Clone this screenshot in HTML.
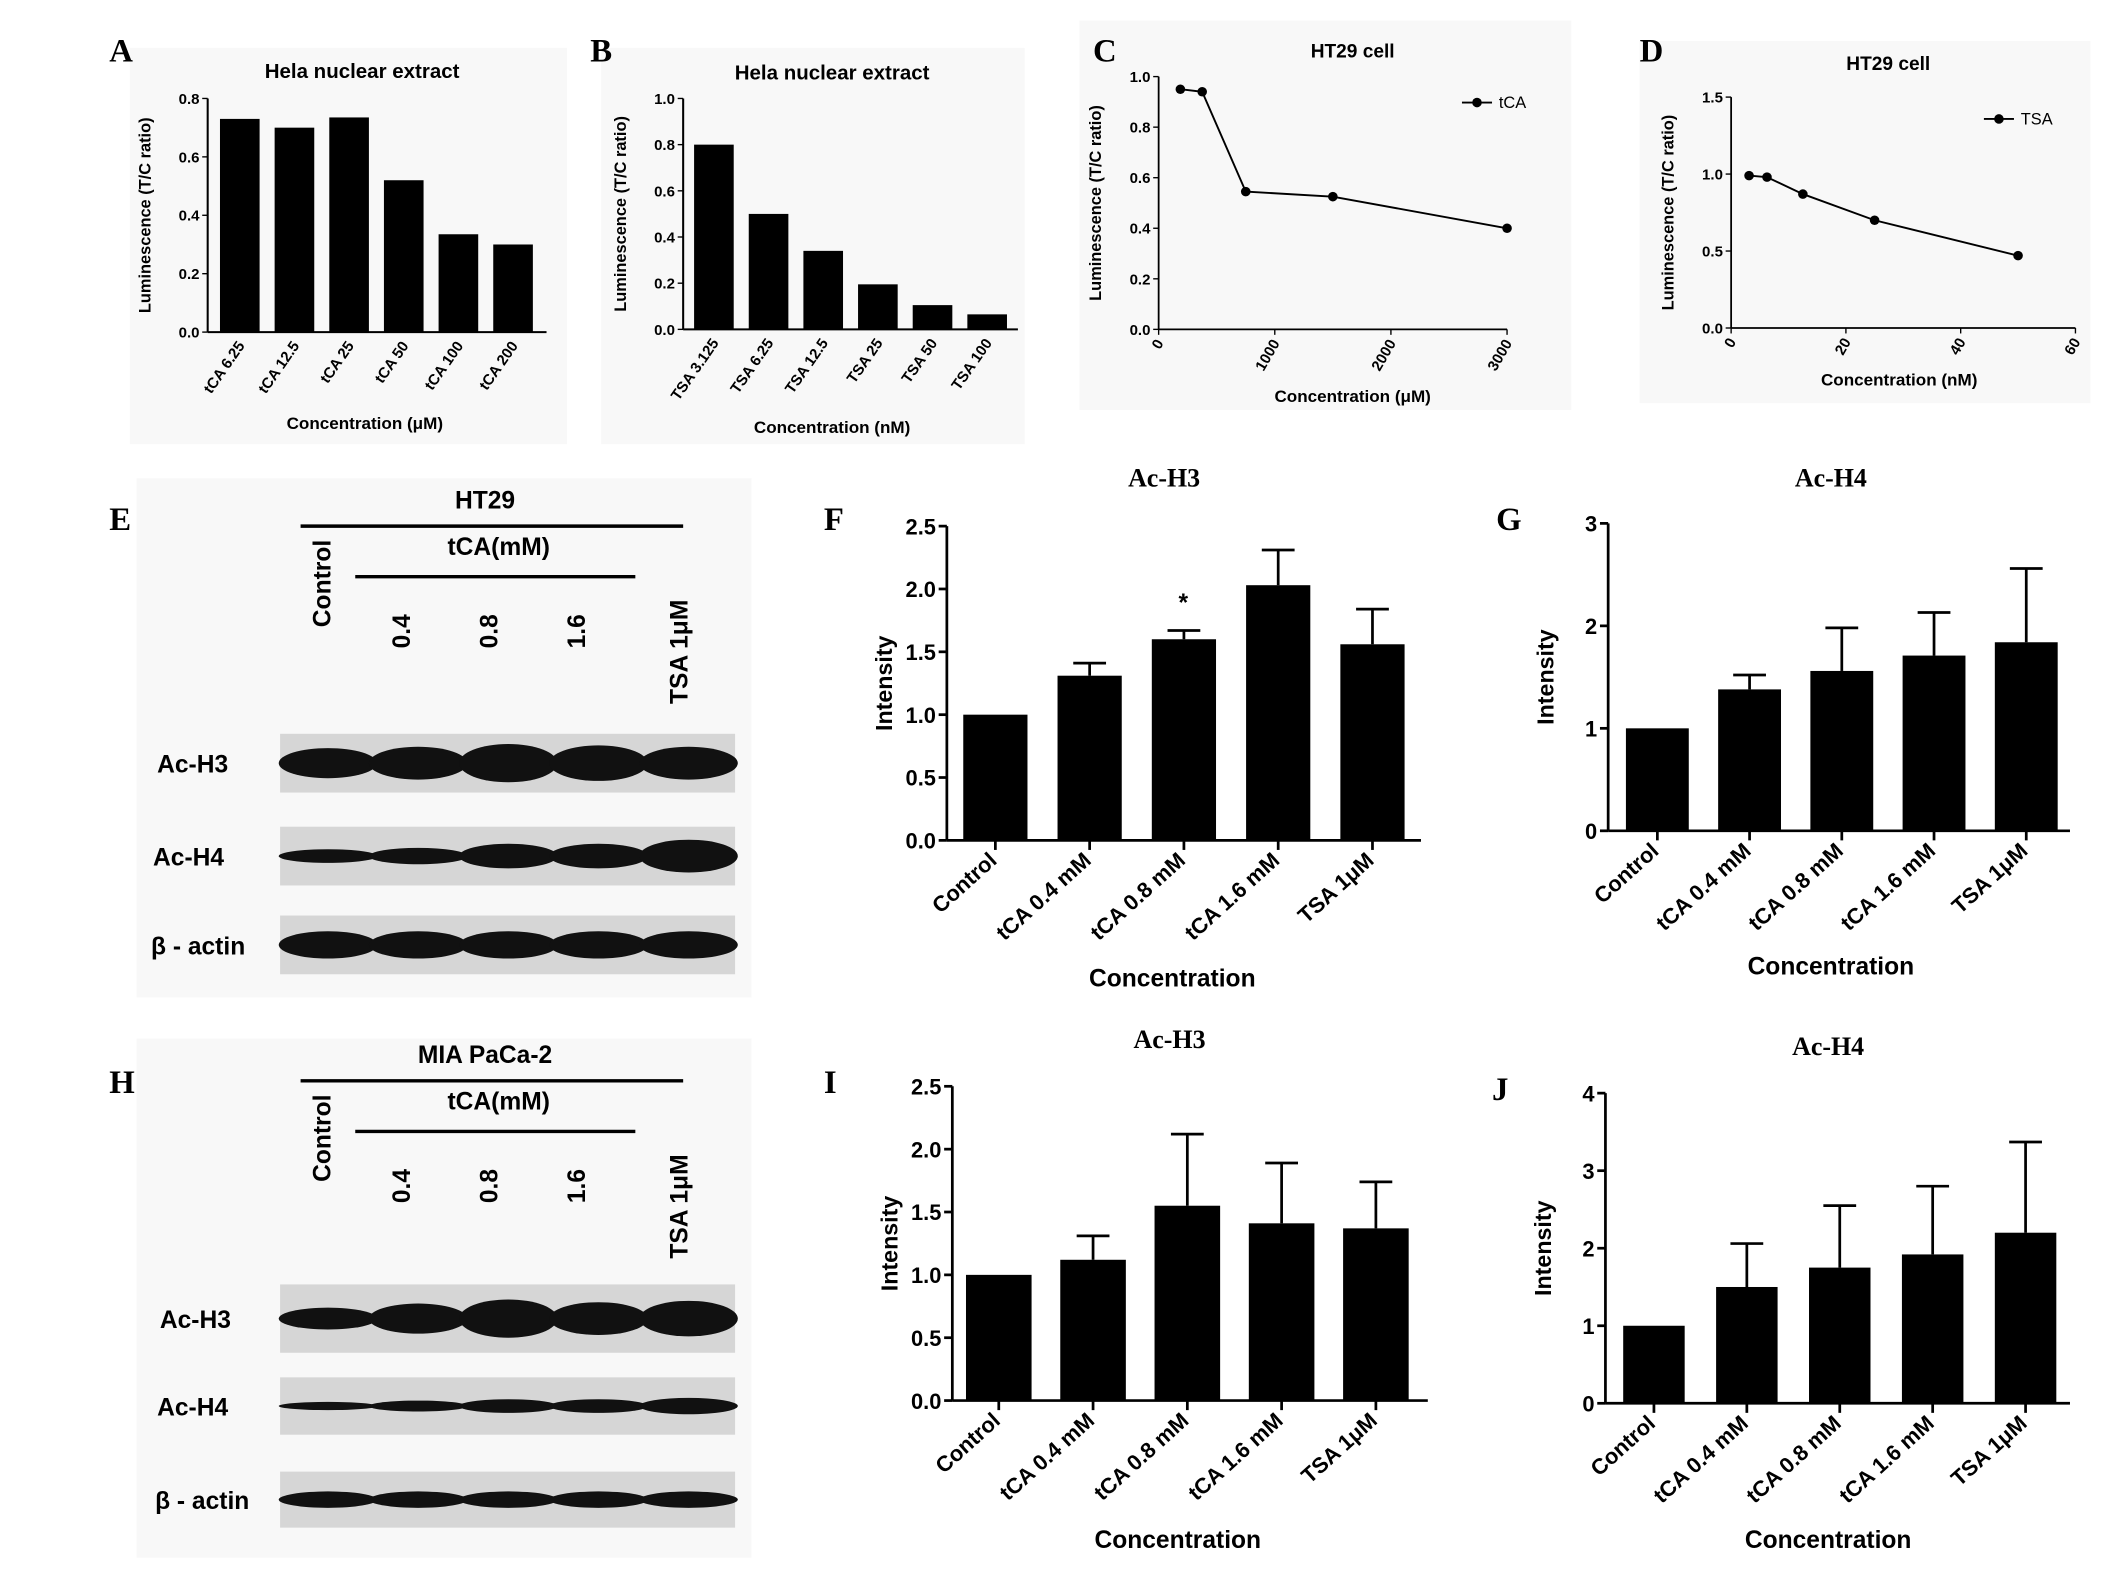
<!DOCTYPE html>
<html><head><meta charset="utf-8"><style>
html,body{margin:0;padding:0;background:#fff;}
svg{display:block;font-family:"Liberation Sans",Arial,sans-serif;}
.lt{font-family:"Liberation Serif",serif;font-weight:bold;font-size:24px;}
.tt{font-family:"Liberation Serif",serif;font-weight:bold;font-size:19px;}
</style></head><body>
<svg id="fig" width="2126" height="1581" viewBox="0 0 1556 1157" xmlns="http://www.w3.org/2000/svg">
<g fill="#f8f8f8">
<rect x="95" y="35" width="320" height="290"/><rect x="440" y="35" width="310" height="290"/>
<rect x="790" y="15" width="360" height="285"/><rect x="1200" y="30" width="330" height="265"/>
<rect x="100" y="350" width="450" height="380"/><rect x="100" y="760" width="450" height="380"/>
</g>
<g id="content"></g>
</svg>
<script>
// Panel A data
const aCats=["tCA 6.25","tCA 12.5","tCA 25","tCA 50","tCA 100","tCA 200"];
const aVals=[0.73,0.70,0.735,0.52,0.335,0.30];
const aTicks=[0,0.2,0.4,0.6,0.8];
// Panel B data
const bCats=["TSA 3.125","TSA 6.25","TSA 12.5","TSA 25","TSA 50","TSA 100"];
const bVals=[0.80,0.50,0.34,0.195,0.105,0.065];
const bTicks=[0,0.2,0.4,0.6,0.8,1.0];
// Panel C data
const cX=[187,375,750,1500,3000];
const cY=[0.95,0.94,0.545,0.525,0.40];
const cXTicks=[0,1000,2000,3000];
const cYTicks=[0,0.2,0.4,0.6,0.8,1.0];
// Panel D data
const dX=[3.125,6.25,12.5,25,50];
const dY=[0.99,0.98,0.87,0.70,0.47];
const dXTicks=[0,20,40,60];
const dYTicks=[0,0.5,1.0,1.5];
// Panels F,G,I,J
const hCats=["Control","tCA 0.4 mM","tCA 0.8 mM","tCA 1.6 mM","TSA 1μM"];
const fVals=[1.0,1.31,1.60,2.03,1.56];
const fErr=[0,0.10,0.07,0.28,0.28];
const fTicks=[0,0.5,1.0,1.5,2.0,2.5];
const gVals=[1.0,1.38,1.56,1.71,1.84];
const gErr=[0,0.14,0.42,0.42,0.72];
const gTicks=[0,1,2,3];
const iVals=[1.0,1.12,1.55,1.41,1.37];
const iErr=[0,0.19,0.57,0.48,0.37];
const iTicks=[0,0.5,1.0,1.5,2.0,2.5];
const jVals=[1.0,1.50,1.75,1.92,2.20];
const jErr=[0,0.56,0.80,0.88,1.17];
const jTicks=[0,1,2,3,4];

const NS="http://www.w3.org/2000/svg";
const root=document.getElementById('content');
function el(tag,attrs,parent,text){const e=document.createElementNS(NS,tag);for(const k in attrs)e.setAttribute(k,attrs[k]);if(text!==undefined)e.textContent=text;(parent||root).appendChild(e);return e;}
function grp(name){const g=document.createElementNS(NS,'g');


root.appendChild(g);return g;}

function letter(t,x,y){const e=el('text',{x:x,y:y,class:'lt'},root,t);

}

function smallBar(name,cats,vals,ticks,x0,x1,yTop,yBot,vmax,bx,bw,title,tx,ty,xlabel,xlx,xly,fmt){
  const g=grp(name);
  const y=v=>yBot-(v/vmax)*(yBot-yTop);
  el('line',{x1:x0,y1:yTop,x2:x0,y2:yBot,stroke:'#000','stroke-width':1.5},g);
  el('line',{x1:x0,y1:yBot,x2:x1,y2:yBot,stroke:'#000','stroke-width':1.5},g);
  ticks.forEach(t=>{el('line',{x1:x0-4,y1:y(t),x2:x0,y2:y(t),stroke:'#000'},g);
    el('text',{x:x0-6,y:y(t)+4,'text-anchor':'end','font-size':11,'font-weight':'bold'},g,fmt(t));});
  vals.forEach((v,i)=>{const b=el('rect',{x:bx+i*(bw+11),y:y(v),width:bw,height:yBot-y(v),fill:'#000'},g);
    
    
    const cx=bx+i*(bw+11)+bw/2;
    el('text',{x:cx+4,y:yBot+10,'text-anchor':'end','font-size':11,'font-weight':'bold',transform:`rotate(-55 ${cx+4} ${yBot+10})`},g,cats[i]);});
  el('text',{x:tx,y:ty,'text-anchor':'middle','font-size':15,'font-weight':'bold'},g,title);
  el('text',{x:xlx,y:xly,'text-anchor':'middle','font-size':12.5,'font-weight':'bold'},g,xlabel);
  const yl=(yTop+yBot)/2;
  el('text',{x:x0-42,y:yl,'text-anchor':'middle','font-size':12,'font-weight':'bold',transform:`rotate(-90 ${x0-42} ${yl})`},g,'Luminescence (T/C ratio)');
}
letter('A',80,45);letter('B',432,45);letter('C',800,45);letter('D',1200,45);
smallBar('chart-a',aCats,aVals,aTicks,152,400,72,243,0.8,161,29,'Hela nuclear extract',265,57,'Concentration (μM)',267,314,t=>t===0?'0.0':String(t));
smallBar('chart-b',bCats,bVals,bTicks,500,745,72,241,1.0,508,29,'Hela nuclear extract',609,58,'Concentration (nM)',609,317,t=>t.toFixed(1));

function lineChart(name,xs,ys,xt,yt,x0,x1,yTop,yBot,xmax,ymax,title,tx,ty,xlabel,xlx,xly,leg,lx,ly,yfmt){
  const g=grp(name);
  const X=v=>x0+v/xmax*(x1-x0), Y=v=>yBot-v/ymax*(yBot-yTop);
  el('line',{x1:x0,y1:Y(yt[yt.length-1]),x2:x0,y2:yBot,stroke:'#000','stroke-width':1.3},g);
  el('line',{x1:x0,y1:yBot,x2:X(xt[xt.length-1]),y2:yBot,stroke:'#000','stroke-width':1.3},g);
  yt.forEach(t=>{el('line',{x1:x0-4,y1:Y(t),x2:x0,y2:Y(t),stroke:'#000'},g);
    el('text',{x:x0-6,y:Y(t)+4,'text-anchor':'end','font-size':11,'font-weight':'bold'},g,yfmt(t));});
  xt.forEach(t=>{el('line',{x1:X(t),y1:yBot,x2:X(t),y2:yBot+4,stroke:'#000'},g);
    el('text',{x:X(t)+4,y:yBot+10,'text-anchor':'end','font-size':11,'font-weight':'bold',transform:`rotate(-60 ${X(t)+4} ${yBot+10})`},g,String(t));});
  el('polyline',{points:xs.map((v,i)=>X(v)+','+Y(ys[i])).join(' '),fill:'none',stroke:'#000','stroke-width':1.4},g);
  xs.forEach((v,i)=>{const c=el('circle',{cx:X(v),cy:Y(ys[i]),r:3.5,fill:'#000'},g);
    
    });
  el('line',{x1:lx,y1:ly,x2:lx+22,y2:ly,stroke:'#000','stroke-width':1.4},g);
  el('circle',{cx:lx+11,cy:ly,r:3.5,fill:'#000'},g);
  el('text',{x:lx+27,y:ly+4,'font-size':12},g,leg);
  el('text',{x:tx,y:ty,'text-anchor':'middle','font-size':14,'font-weight':'bold'},g,title);
  el('text',{x:xlx,y:xly,'text-anchor':'middle','font-size':12.5,'font-weight':'bold'},g,xlabel);
  const yl=(yTop+yBot)/2;
  el('text',{x:x0-42,y:yl,'text-anchor':'middle','font-size':12,'font-weight':'bold',transform:`rotate(-90 ${x0-42} ${yl})`},g,'Luminescence (T/C ratio)');
}
lineChart('chart-c',cX,cY,cXTicks,cYTicks,848,1103,56,241,3000,1.0,'HT29 cell',990,42,'Concentration (μM)',990,294,'tCA',1070,75,t=>t.toFixed(1));
lineChart('chart-d',dX,dY,dXTicks,dYTicks,1267,1519,71,240,60,1.5,'HT29 cell',1382,51,'Concentration (nM)',1390,282,'TSA',1452,87,t=>t.toFixed(1));

function bigBar(name,vals,err,ticks,x0,x1,yTop,yBot,bx,step,bw,title,tx,ty,xlx,xly,fmt){
  const g=grp(name);
  const vmax=ticks[ticks.length-1];
  const Y=v=>yBot-v/vmax*(yBot-yTop);
  el('line',{x1:x0,y1:yTop,x2:x0,y2:yBot,stroke:'#000','stroke-width':2},g);
  el('line',{x1:x0,y1:yBot,x2:x1,y2:yBot,stroke:'#000','stroke-width':2},g);
  ticks.forEach(t=>{el('line',{x1:x0-6,y1:Y(t),x2:x0,y2:Y(t),stroke:'#000','stroke-width':2},g);
    el('text',{x:x0-8,y:Y(t)+6,'text-anchor':'end','font-size':16,'font-weight':'bold'},g,fmt(t));});
  vals.forEach((v,i)=>{const x=bx+i*step;const cx=x+bw/2;
    if(err[i]>0){el('line',{x1:cx,y1:Y(v),x2:cx,y2:Y(v+err[i]),stroke:'#000','stroke-width':2},g);
      el('line',{x1:cx-12,y1:Y(v+err[i]),x2:cx+12,y2:Y(v+err[i]),stroke:'#000','stroke-width':2},g);}
    const b=el('rect',{x:x,y:Y(v),width:bw,height:yBot-Y(v),fill:'#000'},g);
    
    
    el('line',{x1:cx,y1:yBot,x2:cx,y2:yBot+7,stroke:'#000','stroke-width':2},g);
    el('text',{x:cx+2,y:yBot+16,'text-anchor':'end','font-size':16,'font-weight':'bold',transform:`rotate(-42 ${cx+2} ${yBot+16})`},g,hCats[i]);});
  el('text',{x:tx,y:ty,'text-anchor':'middle',class:'tt'},g,title);
  el('text',{x:xlx,y:xly,'text-anchor':'middle','font-size':18,'font-weight':'bold'},g,'Concentration');
  const yl=(yTop+yBot)/2;
  el('text',{x:x0-40,y:yl,'text-anchor':'middle','font-size':17,'font-weight':'bold',transform:`rotate(-90 ${x0-40} ${yl})`},g,'Intensity');
  return {g,Y};
}
letter('F',603,388);letter('G',1095,388);letter('I',603,800);letter('J',1092,805);
letter('E',80,388);letter('H',80,800);
const f=bigBar('chart-f',fVals,fErr,fTicks,693,1040,385,615,705,69,47,'Ac-H3',852,356,858,722,t=>t.toFixed(1));
el('text',{x:866,y:447,'text-anchor':'middle','font-size':18,'font-weight':'bold'},f.g,'*');
bigBar('chart-g',gVals,gErr,gTicks,1177,1515,383,608,1190,67.5,46,'Ac-H4',1340,356,1340,713,t=>String(t));
bigBar('chart-i',iVals,iErr,iTicks,697,1045,795,1025,707,69,48,'Ac-H3',856,767,862,1133,t=>t.toFixed(1));
bigBar('chart-j',jVals,jErr,jTicks,1175,1515,800,1027,1188,68,45,'Ac-H4',1338,772,1338,1133,t=>String(t));

function blot(name,cell,yTop,rows){
  const g=grp(name);
  el('text',{x:355,y:yTop+20,'text-anchor':'middle','font-size':18,'font-weight':'bold'},g,cell);
  el('line',{x1:220,y1:yTop+33,x2:500,y2:yTop+33,stroke:'#000','stroke-width':2.5},g);
  el('text',{x:365,y:yTop+54,'text-anchor':'middle','font-size':18,'font-weight':'bold'},g,'tCA(mM)');
  el('line',{x1:260,y1:yTop+70,x2:465,y2:yTop+70,stroke:'#000','stroke-width':2.5},g);
  [['Control',242,yTop+75],['0.4',300,yTop+110],['0.8',364,yTop+110],['1.6',428,yTop+110],['TSA 1μM',503,yTop+125]].forEach(l=>{
    el('text',{x:l[1],y:l[2],'text-anchor':'middle','font-size':18,'font-weight':'bold',transform:`rotate(-90 ${l[1]} ${l[2]})`},g,l[0]);});
  rows.forEach(r=>{
    el('rect',{x:205,y:r.y,width:333,height:r.h,fill:'#d6d6d6'},g);
    el('text',{x:r.lx,y:r.y+r.h/2+7,'text-anchor':'middle','font-size':18,'font-weight':'bold'},g,r.label);
    r.bands.forEach((bh,i)=>{const cx=240+i*66;
      el('ellipse',{cx:cx,cy:r.y+r.h/2,rx:36,ry:bh,fill:'#111'},g);});
  });
}
blot('western-blot-ht29','HT29',352,[
 {label:'Ac-H3',lx:141,y:537,h:43,bands:[11,12,14,13,12]},
 {label:'Ac-H4',lx:138,y:605,h:43,bands:[5,6,9,9,12]},
 {label:'β - actin',lx:145,y:670,h:43,bands:[10,10,10,10,10]}]);
blot('western-blot-mia-paca2','MIA PaCa-2',758,[
 {label:'Ac-H3',lx:143,y:940,h:50,bands:[8,11,14,12,13]},
 {label:'Ac-H4',lx:141,y:1008,h:42,bands:[3,4,5,5,6]},
 {label:'β - actin',lx:148,y:1077,h:41,bands:[6,6,6,6,6]}]);
</script>
</body></html>
